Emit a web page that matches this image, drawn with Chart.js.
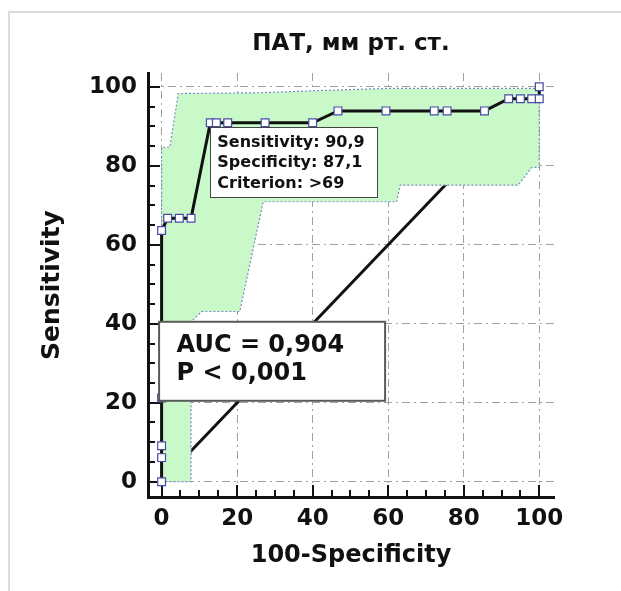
<!DOCTYPE html>
<html>
<head>
<meta charset="utf-8">
<title>ПАТ, мм рт. ст.</title>
<script src="https://cdn.jsdelivr.net/npm/chart.js@4.4.1/dist/chart.umd.min.js"></script>
<style>
  html, body { margin: 0; padding: 0; background: #fff; }
  #wrap { position: relative; width: 621px; height: 591px; overflow: hidden; }
  #frame { position: absolute; left: 8px; top: 11px; width: 700px; height: 700px; border: 2px solid #dcdcdc; }
  #roc { position: absolute; left: 0; top: 0; }
</style>
</head>
<body>
<div id="wrap">
  <div id="frame"></div>
  <canvas id="roc" width="621" height="591"></canvas>
</div>
<script>
// ROC curve: 100-Specificity (x) vs Sensitivity (y)
const rocX = [0, 0, 0, 0, 0, 1.6, 4.7, 7.8, 12.9, 14.5, 17.5, 27.4, 40.0, 46.7, 59.4, 72.2, 75.6, 85.5, 91.9, 95.0, 98.0, 100, 100];
const rocY = [0, 6.1, 9.1, 21.2, 63.6, 66.7, 66.7, 66.7, 90.9, 90.9, 90.9, 90.9, 90.9, 93.9, 93.9, 93.9, 93.9, 93.9, 97.0, 97.0, 97.0, 97.0, 100];
const criterionIndex = 8;
const criterionText = '>69';

// 95% confidence band outline (upper edge left to right, lower edge back)
const bandX = [0, 0, 2.2, 4.4, 26, 40, 60, 100, 100, 98.0, 94.4, 63.2, 62.2, 26.9, 20.7, 10.6, 7.8, 7.8, 0];
const bandY = [0, 84.7, 84.7, 98.3, 98.5, 99.0, 99.6, 99.6, 79.6, 79.6, 75.1, 75.1, 70.9, 70.9, 43.1, 43.1, 40.5, 0, 0];

// chance line
const diagX = [0, 100];
const diagY = [0, 100];

const aucText = '0,904';
const pText = '< 0,001';

const xTicks = [0, 20, 40, 60, 80, 100];
const yTicks = [0, 20, 40, 60, 80, 100];
const minorStep = 5;

const FONT = "'DejaVu Sans', Verdana, sans-serif";
const INK = '#111';

const pts = (xs, ys) => xs.map((x, i) => ({ x, y: ys[i] }));
const comma = v => v.toFixed(1).replace('.', ',');

function minorTicks(major) {
  const out = [];
  for (let v = major[0]; v <= major[major.length - 1]; v += minorStep) out.push({ value: v });
  return out;
}

// short ticks pointing into the plot, long ones at the labelled values
const innerTicks = {
  id: 'innerTicks',
  beforeDatasetsDraw(chart) {
    const { ctx, chartArea, scales: { x, y } } = chart;
    ctx.save();
    ctx.strokeStyle = INK;
    ctx.lineWidth = 2;
    ctx.beginPath();
    x.ticks.forEach(t => {
      const px = Math.round(x.getPixelForValue(t.value));
      const len = xTicks.includes(t.value) ? 12 : 7;
      ctx.moveTo(px, chartArea.bottom);
      ctx.lineTo(px, chartArea.bottom - len);
    });
    y.ticks.forEach(t => {
      const py = Math.round(y.getPixelForValue(t.value));
      const len = yTicks.includes(t.value) ? 12 : 7;
      ctx.moveTo(chartArea.left, py);
      ctx.lineTo(chartArea.left + len, py);
    });
    ctx.stroke();
    ctx.restore();
  }
};

function textBox(ctx, left, top, w, h, lw, stroke) {
  ctx.fillStyle = '#fff';
  ctx.fillRect(left, top, w, h);
  ctx.lineWidth = lw;
  ctx.strokeStyle = stroke;
  ctx.strokeRect(left, top, w, h);
}

// cut-off summary and AUC boxes
const noteBoxes = {
  id: 'noteBoxes',
  afterDatasetsDraw(chart) {
    const { ctx, scales: { x, y } } = chart;
    ctx.save();

    const cx = x.getPixelForValue(rocX[criterionIndex]);
    const cy = y.getPixelForValue(rocY[criterionIndex]);
    const lines = [
      'Sensitivity: ' + comma(rocY[criterionIndex]),
      'Specificity: ' + comma(100 - rocX[criterionIndex]),
      'Criterion: ' + criterionText
    ];
    textBox(ctx, Math.round(cx) + 0.5, Math.round(cy + 4) + 0.5, 167, 70, 1, '#444');
    ctx.font = 'bold 16px ' + FONT;
    ctx.fillStyle = INK;
    ctx.textBaseline = 'alphabetic';
    lines.forEach((t, i) => ctx.fillText(t, cx + 7, cy + 24 + i * 20.4));

    const ax = x.getPixelForValue(0) - 2.5;
    const ay = y.getPixelForValue(40.5);
    textBox(ctx, ax, ay, 226, 79, 2, '#5a5a5a');
    ctx.font = 'bold 24px ' + FONT;
    ctx.fillStyle = INK;
    ctx.fillText('AUC = ' + aucText, ax + 17.5, ay + 30);
    ctx.fillText('P ' + pText, ax + 17.5, ay + 58.5);
    ctx.restore();
  }
};

const gridColor = major => c => major.includes(c.tick.value) ? '#a0a0a0' : 'rgba(0,0,0,0)';

new Chart(document.getElementById('roc'), {
  type: 'scatter',
  data: {
    datasets: [
      {
        data: pts(rocX, rocY),
        showLine: true,
        order: 0,
        borderColor: INK,
        borderWidth: 3,
        pointStyle: 'rect',
        pointRadius: 5.5,
        pointBackgroundColor: '#fff',
        pointBorderColor: '#4a4aa8',
        pointBorderWidth: 1.2
      },
      {
        data: pts(bandX, bandY),
        showLine: true,
        order: 1,
        fill: 'shape',
        backgroundColor: '#c9f9c9',
        borderColor: '#7d88c8',
        borderWidth: 1.2,
        borderDash: [2, 2],
        pointRadius: 0
      },
      {
        data: pts(diagX, diagY),
        showLine: true,
        order: 2,
        borderColor: INK,
        borderWidth: 3,
        pointRadius: 0
      }
    ]
  },
  options: {
    responsive: false,
    animation: false,
    devicePixelRatio: 1,
    layout: { padding: { left: 0, right: 67, top: 0, bottom: 0 } },
    elements: { line: { tension: 0 } },
    plugins: {
      legend: { display: false },
      tooltip: { enabled: false },
      title: {
        display: true,
        text: 'ПАТ, мм рт. ст.',
        fullSize: false,
        color: INK,
        font: { family: FONT, size: 23, weight: 'bold' },
        padding: { top: 30, bottom: 15.4 }
      }
    },
    scales: {
      x: {
        type: 'linear',
        min: -3.6,
        max: 103.9,
        afterBuildTicks: s => { s.ticks = minorTicks(xTicks); },
        afterFit: s => { s.height = 94; },
        ticks: {
          autoSkip: false,
          maxRotation: 0,
          padding: 8,
          color: INK,
          font: { family: FONT, size: 23, weight: 'bold' },
          callback: v => xTicks.includes(v) ? String(v) : ''
        },
        grid: { color: gridColor(xTicks), lineWidth: 1, drawTicks: false },
        border: { display: true, color: INK, width: 3, dash: [8, 4, 2, 4] },
        title: {
          display: true,
          text: '100-Specificity',
          color: INK,
          font: { family: FONT, size: 24, weight: 'bold' },
          padding: { top: 0, bottom: 21 }
        }
      },
      y: {
        type: 'linear',
        min: -3.87,
        max: 103.5,
        afterBuildTicks: s => { s.ticks = minorTicks(yTicks); },
        afterFit: s => { s.width = 148; },
        ticks: {
          autoSkip: false,
          padding: 11,
          color: INK,
          font: { family: FONT, size: 23, weight: 'bold' },
          callback: v => yTicks.includes(v) ? String(v) : ''
        },
        grid: { color: gridColor(yTicks), lineWidth: 1, drawTicks: false },
        border: { display: true, color: INK, width: 3, dash: [8, 4, 2, 4] },
        title: {
          display: true,
          text: 'Sensitivity',
          color: INK,
          font: { family: FONT, size: 25, weight: 'bold' },
          padding: { top: 37, bottom: 0 }
        }
      }
    }
  },
  plugins: [innerTicks, noteBoxes]
});
</script>
</body>
</html>
